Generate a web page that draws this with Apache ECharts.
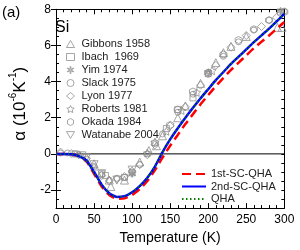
<!DOCTYPE html>
<html><head><meta charset="utf-8">
<script src="https://cdn.jsdelivr.net/npm/echarts@6/dist/echarts.min.js"></script>
<style>html,body{margin:0;padding:0;background:#fff}#c{width:300px;height:250px}</style>
</head><body><div id="c"></div>
<script>
// ---- data ----
var tempsTheory = [0,10,20,30,40,50,60,70,80,90,100,110,120,130,140,150,160,170,180,190,200,210,220,230,240,250,260,270,280,290,300];
var sc1 = [0,0,-0.02,-0.12,-0.4,-1.1,-1.8,-2.28,-2.48,-2.46,-2.27,-1.95,-1.5,-0.9,-0.2,0.45,1.05,1.65,2.2,2.75,3.25,3.75,4.2,4.65,5.05,5.45,5.85,6.2,6.55,6.92,7.3];
var sc2 = [0,0,-0.02,-0.12,-0.36,-1.0,-1.7,-2.18,-2.38,-2.34,-2.12,-1.78,-1.32,-0.7,0.1,0.8,1.42,2.0,2.55,3.08,3.58,4.08,4.53,4.98,5.38,5.78,6.18,6.56,6.93,7.33,7.75];
var qha = [0,0,-0.02,-0.12,-0.36,-1.0,-1.7,-2.18,-2.38,-2.34,-2.12,-1.78,-1.32,-0.7,0.1,0.8,1.42,2.0,2.55,3.08,3.58,4.08,4.53,4.98,5.38,5.78,6.18,6.56,6.93,7.33,7.75];

var gibbons = [[50,-0.55],[70,-1.45],[72,-1.8],[90,-1.45],[110,-0.45],[122,0.18],[132,0.45],[140,1.0],[160,2.0],[170,2.65],[190,3.9],[210,5.05],[220,5.6],[230,5.95],[250,6.5],[291,7.0],[297,7.0]];
var ibach = [[25,0],[35,-0.05],[60,-1.1],[65,-1.2],[90,-1.3],[100,-1.05],[145,1.4],[160,2.45],[180,3.1],[200,4.45],[295,7.85]];
var yim = [[100,-1.1],[200,4.5],[295,7.9]];
var slack = [[6,0.05],[15,0.05],[25,0],[30,-0.05],[40,-0.3],[50,-0.7],[60,-1.15],[70,-1.45],[80,-1.35],[90,-1.3],[100,-1.0],[110,-0.6],[120,0],[140,1.1],[160,2.3],[180,3.3],[200,4.4],[220,5.4],[240,6.2],[260,6.85],[280,7.4],[300,7.9]];
var lyon = [[6,0.1],[20,0.02],[30,-0.05],[40,-0.25],[50,-0.8],[60,-1.2],[70,-1.5],[80,-1.4],[90,-1.25],[100,-0.95],[110,-0.6],[120,-0.05],[130,0.5],[150,1.55],[170,2.6],[190,3.8],[210,4.9],[230,5.9],[250,6.55],[270,7.05],[290,7.55]];
var roberts = [[120,0.05],[130,0.65],[145,1.25],[165,2.4],[185,3.4],[205,4.6]];
var okada = [[130,0.6],[150,1.6],[160,2.45],[180,3.45],[200,4.5],[220,5.5],[240,6.3],[260,6.9],[280,7.4],[300,7.85]];
var watanabe = [[40,-0.2],[50,-0.6],[60,-1.1],[80,-1.45],[100,-0.9]];

var yTickLabels = [-2,0,2,4,6,8];
var yMinorTicks = [-3,-2.5,-2,-1.5,-1,-0.5,0,0.5,1,1.5,2,2.5,3,3.5,4,4.5,5,5.5,6,6.5,7,7.5,8];

// ---- chart ----
var FONT = 'Liberation Sans, Arial, sans-serif';
var GRAY = '#8f8f8f';
function zip(xs, ys){ return xs.map(function(x,i){ return [x, ys[i]]; }); }
var starPath = 'path://M0,-10 L2.9,-4 L9.5,-3.1 L4.7,1.5 L5.9,8.1 L0,5 L-5.9,8.1 L-4.7,1.5 L-9.5,-3.1 L-2.9,-4 Z';
var astPath = 'path://M-1,-10 L1,-10 L1,-1.7 L8.1,-5.8 L9.1,-4.1 L2,0 L9.1,4.1 L8.1,5.8 L1,1.7 L1,10 L-1,10 L-1,1.7 L-8.1,5.8 L-9.1,4.1 L-2,0 L-9.1,-4.1 L-8.1,-5.8 L-1,-1.7 Z';
var hexPath = 'path://M0,-10 L8.66,-5 L8.66,5 L0,10 L-8.66,5 L-8.66,-5 Z';
var downTri = 'path://M-10,-8 L10,-8 L0,9 Z';

var expNames = ['Gibbons 1958','Ibach  1969','Yim 1974','Slack 1975','Lyon 1977','Roberts 1981','Okada 1984','Watanabe 2004'];
var expSymbols = ['triangle','rect',astPath,'circle','diamond',starPath,hexPath,downTri];

function expSeries(name, data, symbol, size){
  return {name:name, type:'scatter', data:data, symbol:symbol, symbolSize:size||7, z:3,
    itemStyle:{color:'rgba(255,255,255,0)', borderColor:GRAY, borderWidth:1}};
}

var chart = echarts.init(document.getElementById('c'), null, {renderer:'canvas'});
var yCommon = {type:'value', min:-3, max:8, gridIndex:0, splitLine:{show:false}};
chart.setOption({
  animation:false,
  backgroundColor:'#fff',
  textStyle:{fontFamily:FONT},
  grid:{left:46.7, right:15.7, top:9.3, bottom:38, containLabel:false},
  xAxis:[
    {type:'value', min:0, max:300, interval:50, position:'bottom',
     axisLine:{show:true, onZero:false, lineStyle:{color:'#000', width:1}},
     axisTick:{show:true, inside:true, length:5, lineStyle:{color:'#000'}},
     minorTick:{show:true, splitNumber:5, length:3, lineStyle:{color:'#000'}},
     axisLabel:{fontSize:12, color:'#000', margin:6, fontFamily:FONT},
     splitLine:{show:false},
     name:'Temperature (K)', nameLocation:'middle', nameGap:19,
     nameTextStyle:{fontSize:14, color:'#000', fontFamily:FONT}},
    {type:'value', min:0, max:300, interval:50, position:'top',
     axisLine:{show:true, onZero:false, lineStyle:{color:'#000', width:1}},
     axisTick:{show:true, inside:true, length:5, lineStyle:{color:'#000'}},
     minorTick:{show:true, splitNumber:5, length:3, lineStyle:{color:'#000'}},
     axisLabel:{show:false}, splitLine:{show:false}}
  ],
  yAxis:[
    Object.assign({}, yCommon, {position:'left', interval:0.5,
     axisLine:{show:true, onZero:false, lineStyle:{color:'#000', width:1}},
     axisTick:{show:true, inside:true, length:3, lineStyle:{color:'#000'}, customValues:yMinorTicks},
     axisLabel:{show:true, fontSize:12, color:'#000', margin:5, fontFamily:FONT, customValues:yTickLabels},
     name:'{a|α (10}{s|-6}{a|K}{s|-1}{a|)}', nameLocation:'middle', nameGap:27,
     nameTextStyle:{color:'#000', fontFamily:FONT, padding:[0,0,0,10],
       rich:{a:{fontSize:17, fontFamily:FONT, color:'#000', lineHeight:21, verticalAlign:'bottom'},
             s:{fontSize:10, fontFamily:FONT, color:'#000', lineHeight:21, verticalAlign:'top'}}}}),
    Object.assign({}, yCommon, {position:'left', interval:0.5,
     axisLine:{show:false}, axisLabel:{show:false},
     axisTick:{show:true, inside:true, length:5, lineStyle:{color:'#000'}, customValues:yTickLabels}}),
    Object.assign({}, yCommon, {position:'right', interval:0.5,
     axisLine:{show:true, onZero:false, lineStyle:{color:'#000', width:1}}, axisLabel:{show:false},
     axisTick:{show:true, inside:true, length:3, lineStyle:{color:'#000'}, customValues:yMinorTicks}}),
    Object.assign({}, yCommon, {position:'right', interval:0.5,
     axisLine:{show:false}, axisLabel:{show:false},
     axisTick:{show:true, inside:true, length:5, lineStyle:{color:'#000'}, customValues:yTickLabels}})
  ],
  legend:[
    {orient:'vertical', left:61, top:33, itemWidth:8, itemHeight:7, itemGap:1,
     data:expNames.map(function(n,i){ return {name:n, icon:expSymbols[i]}; }),
     itemStyle:{color:'rgba(255,255,255,0)', borderColor:GRAY, borderWidth:1},
     textStyle:{fontSize:11, color:'#222', fontFamily:FONT, lineHeight:12, padding:[0,0,0,2]}},
    {orient:'vertical', left:176, top:163, itemWidth:24, itemHeight:8, itemGap:0.5,
     itemStyle:{opacity:0},
     data:['1st-SC-QHA','2nd-SC-QHA','QHA'],
     textStyle:{fontSize:11, color:'#222', fontFamily:FONT, lineHeight:12}}
  ],
  graphic:[
    {type:'text', x:2, y:5, style:{text:'(a)', fontSize:15, fontFamily:FONT, fill:'#000', verticalAlign:'top'}},
    {type:'text', x:55, y:20, style:{text:'Si', fontSize:16, fontFamily:FONT, fill:'#000', verticalAlign:'top'}}
  ],
  series:[
    {type:'line', name:'zero', data:[[0,0],[300,0]], symbol:'none', silent:true, z:1,
     lineStyle:{color:'#000', width:1}},
    expSeries(expNames[0], gibbons, expSymbols[0], 8),
    expSeries(expNames[1], ibach, expSymbols[1], 6),
    expSeries(expNames[2], yim, expSymbols[2], 7),
    expSeries(expNames[3], slack, expSymbols[3], 6),
    expSeries(expNames[4], lyon, expSymbols[4], 8),
    expSeries(expNames[5], roberts, expSymbols[5], 8),
    expSeries(expNames[6], okada, expSymbols[6], 7),
    expSeries(expNames[7], watanabe, expSymbols[7], 8),
    {type:'line', name:'1st-SC-QHA', data:zip(tempsTheory, sc1), symbol:'none', smooth:0.2, z:4,
     itemStyle:{color:'#ff0000'}, lineStyle:{color:'#ff0000', width:2.5, type:[9,5]}},
    {type:'line', name:'2nd-SC-QHA', data:zip(tempsTheory, sc2), symbol:'none', smooth:0.2, z:5,
     itemStyle:{color:'#0000ff'}, lineStyle:{color:'#0000ff', width:2.5}},
    {type:'line', name:'QHA', data:zip(tempsTheory, qha), symbol:'none', smooth:0.2, z:6,
     itemStyle:{color:'#008000'}, lineStyle:{color:'#008000', width:1.5, type:[1.5,2.5]}}
  ]
});
</script></body></html>
